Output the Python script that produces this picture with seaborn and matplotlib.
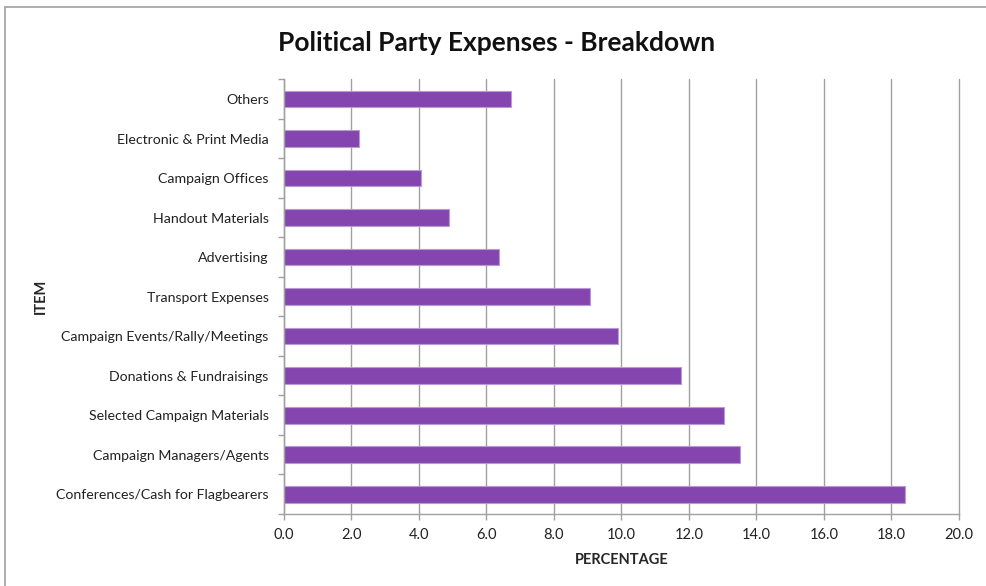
import matplotlib
matplotlib.use("Agg")
import matplotlib.pyplot as plt
import pandas as pd
import seaborn as sns
from matplotlib.lines import Line2D

# Items listed top to bottom as they appear on the chart
items = [
    "Others",
    "Electronic & Print Media",
    "Campaign Offices",
    "Handout Materials",
    "Advertising",
    "Transport Expenses",
    "Campaign Events/Rally/Meetings",
    "Donations & Fundraisings",
    "Selected Campaign Materials",
    "Campaign Managers/Agents",
    "Conferences/Cash for Flagbearers",
]
percentages = [6.73, 2.21, 4.07, 4.88, 6.36, 9.07, 9.89, 11.78, 13.03, 13.52, 18.42]
x_ticks = [0, 2, 4, 6, 8, 10, 12, 14, 16, 18, 20]

BAR_COLOR = "#8446AE"
GRID_COLOR = "#A0A0A0"


def plot_expenses():
    df = pd.DataFrame({"Item": items, "Percentage": percentages})

    sns.set_theme(style="white")
    plt.rcParams["font.family"] = ["Lato", "DejaVu Sans"]

    fig = plt.figure(figsize=(9.86, 5.86), dpi=100)
    ax = fig.add_axes([284 / 986, 1 - 514 / 586, (958.7 - 284) / 986, (514 - 79.3) / 586])

    sns.barplot(
        data=df, x="Percentage", y="Item", order=items, color=BAR_COLOR,
        width=0.42, edgecolor="#B89AD6", linewidth=0.8, saturation=1, ax=ax,
    )

    ax.set_xlim(0, 20)
    ax.set_ylim(len(items) - 0.5, -0.5)
    ax.set_xticks(x_ticks)
    ax.set_xticklabels([f"{t:.1f}" for t in x_ticks], fontsize=10.5, color="#222222")
    ax.tick_params(axis="y", labelsize=10.2, labelcolor="#222222", length=0, pad=11)
    ax.tick_params(axis="x", length=4, color=GRID_COLOR, width=1, pad=6, direction="out")
    ax.xaxis.set_ticks_position("bottom")

    # small separators between categories on the left axis
    ax.set_yticks([i + 0.5 for i in range(-1, len(items))], minor=True)
    ax.tick_params(axis="y", which="minor", length=4, color=GRID_COLOR, width=1, left=True)

    ax.grid(axis="x", color=GRID_COLOR, linewidth=1)
    for gl in ax.get_xgridlines():
        gl.set_clip_on(False)
    ax.set_axisbelow(True)
    for side in ["top", "right"]:
        ax.spines[side].set_visible(False)
    for side in ["left", "bottom"]:
        ax.spines[side].set_color(GRID_COLOR)
        ax.spines[side].set_linewidth(1)

    ax.set_xlabel("PERCENTAGE", fontsize=10.5, fontweight="bold", labelpad=8)
    ax.set_ylabel("ITEM", fontsize=10.5, fontweight="bold")
    ax.yaxis.set_label_coords(-236 / 674.7, 0.5)

    fig.text(0.504, 1 - 43 / 586, "Political Party Expenses - Breakdown",
             ha="center", va="center", fontsize=19, fontweight="bold", color="#111111")

    # chart frame (top and left edges visible)
    fig.add_artist(Line2D([5 / 986, 1], [1 - 7 / 586, 1 - 7 / 586], color="#A0A0A0", linewidth=1.2))
    fig.add_artist(Line2D([5 / 986, 5 / 986], [0, 1 - 7 / 586], color="#A0A0A0", linewidth=1.2))

    fig.savefig("out.png", dpi=100)


if __name__ == "__main__":
    plot_expenses()
